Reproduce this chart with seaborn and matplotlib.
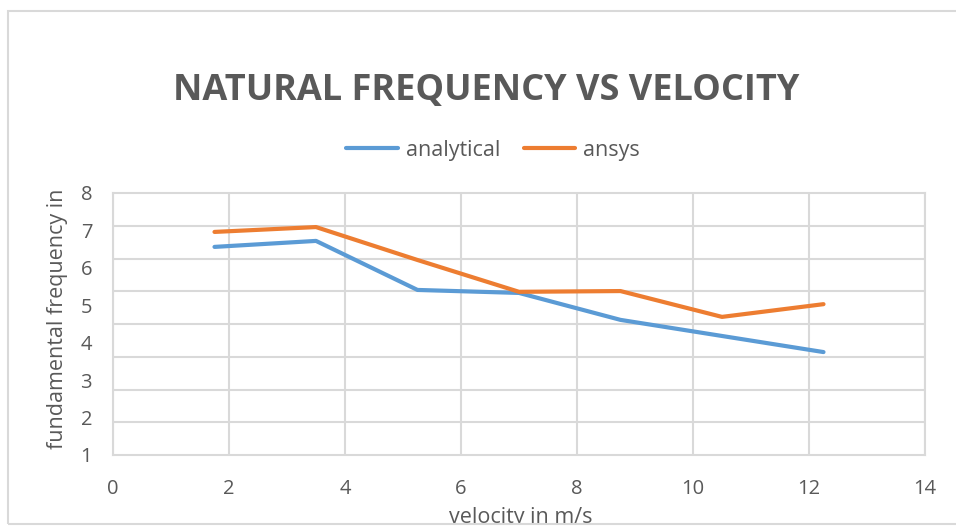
import numpy as np
import pandas as pd
import matplotlib
matplotlib.use("Agg")
import matplotlib.pyplot as plt
from matplotlib.patches import Rectangle
import seaborn as sns

# Velocity samples (m/s) and fundamental frequency from both methods
velocity = [1.75, 3.5, 5.25, 7.0, 8.75, 10.5, 12.25]
analytical = [6.56, 6.72, 5.41, 5.33, 4.61, 4.18, 3.75]
ansys = [6.96, 7.09, 6.21, 5.36, 5.38, 4.69, 5.03]
series_names = ["analytical", "ansys"]
x_ticks = [0, 2, 4, 6, 8, 10, 12, 14]
y_ticks = [1, 2, 3, 4, 5, 6, 7, 8]

df = pd.DataFrame({
    "velocity": velocity * 2,
    "frequency": analytical + ansys,
    "method": [series_names[0]] * len(velocity) + [series_names[1]] * len(velocity),
})

sns.set_theme(style="white")
plt.rcParams["font.family"] = ["Open Sans", "DejaVu Sans"]

text_gray = "#595959"
grid_gray = "#d9d9d9"
palette = {"analytical": "#5B9BD5", "ansys": "#ED7D31"}

fig = plt.figure(figsize=(9.56, 5.31), dpi=100)
fig.patch.set_facecolor("white")
ax = fig.add_axes([113 / 956, 1 - 455 / 531, (925 - 113) / 956, (455 - 193) / 531])

sns.lineplot(data=df, x="velocity", y="frequency", hue="method", palette=palette,
             linewidth=3.0, ax=ax, legend=False, zorder=3)

ax.set_xlim(0, 14)
ax.set_ylim(1, 8)
ax.set_xticks(x_ticks)
ax.set_yticks(y_ticks)
ax.set_yticks(np.linspace(1, 8, 9), minor=True)
ax.tick_params(axis="both", which="both", length=0, labelsize=14.5, colors=text_gray)
ax.tick_params(axis="x", pad=17)
ax.tick_params(axis="y", pad=15)
ax.grid(False)
ax.xaxis.grid(True, which="major", color=grid_gray, linewidth=1.5)
ax.yaxis.grid(True, which="minor", color=grid_gray, linewidth=1.5)
for sp in ax.spines.values():
    sp.set_visible(True)
    sp.set_color(grid_gray)
    sp.set_linewidth(1.5)

ax.set_xlabel("")
ax.set_ylabel("")
fig.text(58 / 956, 1 - 319 / 531, "fundamental frequency in", rotation=90,
         ha="center", va="center", fontsize=15.5, color=text_gray)
fig.text(521 / 956, 1 - 518 / 531, "velocity in m/s", ha="center", va="center",
         fontsize=15.5, color=text_gray)

fig.text(486 / 956, 1 - 91 / 531, "NATURAL FREQUENCY VS VELOCITY", ha="center",
         va="center", fontsize=26, fontweight="bold", color=text_gray)

handles = [plt.Line2D([], [], color=palette[n], linewidth=3.0) for n in series_names]
fig.legend(handles, series_names, loc="center", bbox_to_anchor=(493 / 956, 1 - 150 / 531),
           ncol=2, frameon=False, fontsize=15.5, labelcolor=text_gray,
           handlelength=2.4, handletextpad=0.35, columnspacing=1.1)

# chart frame and clipping strip below it
fig.patches.append(Rectangle((0, 0), 1, 1 - 524 / 531, transform=fig.transFigure,
                             facecolor="white", edgecolor="none", zorder=10))
fig.patches.append(Rectangle((7.5 / 956, 1 - 523.5 / 531), 1.1, (523.5 - 11) / 531,
                             transform=fig.transFigure, facecolor="none",
                             edgecolor=grid_gray, linewidth=1.5, zorder=11, clip_on=False))

fig.savefig("out.png", dpi=100, facecolor="white")
